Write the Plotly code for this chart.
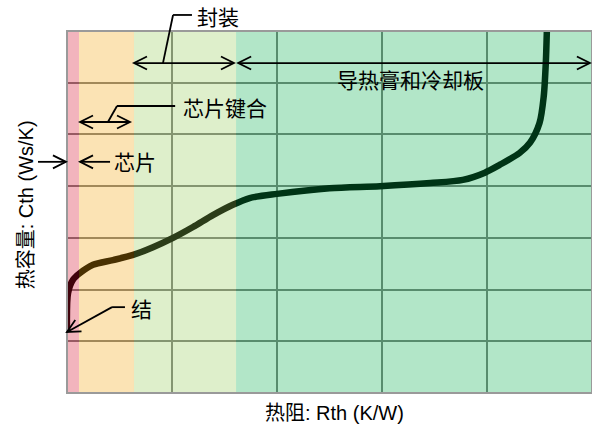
import math
import plotly.graph_objects as go

# Thermal resistance (x) vs. thermal capacitance (y), arbitrary grid units
rth = [0.0, 0.01, 0.057, 0.124, 0.248, 0.438, 0.629, 0.819, 1.01, 1.20, 1.39, 1.58,
       1.74, 2.00, 2.50, 2.98, 3.46, 3.77, 3.98, 4.12, 4.31, 4.41, 4.50, 4.54, 4.56, 4.57]
cth = [1.18, 1.93, 2.19, 2.32, 2.48, 2.57, 2.67, 2.82, 3.00, 3.21, 3.44, 3.64,
       3.77, 3.85, 3.96, 4.00, 4.06, 4.12, 4.26, 4.41, 4.64, 4.84, 5.22, 5.73, 6.38, 7.0]

# Region boundaries along the Rth axis
region_names = ["结", "芯片", "芯片键合", "封装", "导热膏和冷却板"]
region_edges = [0.0, 0.114, 0.638, 1.61, 5.0]
region_colors = ["rgb(212,5,38)", "rgb(242,162,5)", "rgb(145,202,82)", "rgb(0,172,72)"]

x_range = [0, 5]
y_range = [0, 7]

W, H = 592, 425
ML, MR, MT, MB = 67, 0, 31, 32
PW, PH = W - ML - MR, H - MT - MB
PX_X = PW / (x_range[1] - x_range[0])
PX_Y = PH / (y_range[1] - y_range[0])

FONT = "Liberation Sans, Arial, Noto Sans CJK SC, sans-serif"

fig = go.Figure()
fig.add_trace(go.Scatter(
    x=rth, y=cth, mode="lines",
    line=dict(color="black", width=6.5, shape="spline", smoothing=0.8),
    hoverinfo="skip", showlegend=False,
))

shapes = []
for i, col in enumerate(region_colors):
    shapes.append(dict(type="rect", xref="x", yref="y",
                       x0=region_edges[i], x1=region_edges[i + 1],
                       y0=y_range[0], y1=y_range[1],
                       fillcolor=col, opacity=0.3, line=dict(width=0), layer="above"))
shapes.append(dict(type="rect", xref="paper", yref="paper", x0=0, x1=1, y0=0, y1=1,
                   line=dict(color="#9a9a9a", width=2), fillcolor="rgba(0,0,0,0)", layer="above"))

ann = []


def px(xd):
    return (xd - x_range[0]) / (x_range[1] - x_range[0])


def py(yd):
    return (yd - y_range[0]) / (y_range[1] - y_range[0])


HEAD_LEN = 13.0
HEAD_HALF = 6.5
LW = 1.8


def head(xt, yt, xf, yf):
    # open V arrowhead at tip (xt, yt) pointing away from (xf, yf); computed in pixel space
    dx = (xt - xf) * PX_X
    dy = (yt - yf) * PX_Y
    n = math.hypot(dx, dy)
    ux, uy = dx / n, dy / n
    bx, by = -ux * HEAD_LEN, -uy * HEAD_LEN
    nx, ny = -uy * HEAD_HALF, ux * HEAD_HALF
    p1 = (px(xt) + (bx + nx) / PW, py(yt) + (by + ny) / PH)
    p2 = (px(xt) + (bx - nx) / PW, py(yt) + (by - ny) / PH)
    path = f"M {p1[0]},{p1[1]} L {px(xt)},{py(yt)} L {p2[0]},{p2[1]}"
    shapes.append(dict(type="path", xref="paper", yref="paper", path=path,
                       line=dict(color="black", width=LW), layer="above"))


def line(x0, y0, x1, y1, head_end=False, head_start=False):
    shapes.append(dict(type="line", xref="paper", yref="paper",
                       x0=px(x0), y0=py(y0), x1=px(x1), y1=py(y1),
                       line=dict(color="black", width=LW), layer="above"))
    if head_end:
        head(x1, y1, x0, y0)
    if head_start:
        head(x0, y0, x1, y1)


def label(x, y, t):
    ann.append(dict(x=px(x), y=py(y), xref="paper", yref="paper", text=t, showarrow=False,
                    font=dict(family=FONT, size=21, color="black"),
                    xanchor="center", yanchor="middle"))


# 封装 (package)
label(1.44, 7.27, region_names[3])
line(1.19, 7.31, 1.01, 7.31)
line(1.01, 7.31, 0.914, 6.38)
line(0.638, 6.38, 1.59, 6.38, head_end=True, head_start=True)
# 导热膏和冷却板 (thermal paste and cold plate)
line(1.63, 6.38, 4.98, 6.38, head_end=True, head_start=True)
label(3.27, 6.05, region_names[4])
# 芯片键合 (die attach)
label(1.50, 5.51, region_names[2])
line(1.03, 5.55, 0.476, 5.55)
line(0.476, 5.55, 0.39, 5.24)
line(0.124, 5.24, 0.60, 5.24, head_end=True, head_start=True)
# 芯片 (chip)
label(0.648, 4.45, region_names[1])
line(0.41, 4.47, 0.124, 4.47, head_end=True)
line(-0.276, 4.47, -0.01, 4.47, head_end=True)
# 结 (junction)
label(0.705, 1.61, region_names[0])
line(0.552, 1.66, 0.429, 1.66)
line(0.429, 1.66, 0.0, 1.18, head_end=True)

# Axis titles
ann.append(dict(x=0.51, y=-0.02, xref="paper", yref="paper", text="热阻: Rth (K/W)",
                showarrow=False, xanchor="center", yanchor="top",
                font=dict(family=FONT, size=20, color="black")))
ann.append(dict(x=-0.079, y=0.52, xref="paper", yref="paper", text="热容量: Cth (Ws/K)",
                showarrow=False, xanchor="center", yanchor="middle", textangle=-90,
                font=dict(family=FONT, size=20, color="black")))

axis_common = dict(showticklabels=False, ticks="", zeroline=False, showline=False,
                   showgrid=True, gridcolor="#7f7f7f", gridwidth=2, dtick=1, tick0=0,
                   fixedrange=True)

fig.update_layout(
    width=W, height=H,
    margin=dict(l=ML, r=MR, t=MT, b=MB),
    paper_bgcolor="white", plot_bgcolor="white",
    xaxis=dict(range=x_range, **axis_common),
    yaxis=dict(range=y_range, **axis_common),
    shapes=shapes, annotations=ann,
    showlegend=False,
)

fig.write_html("out.html")
